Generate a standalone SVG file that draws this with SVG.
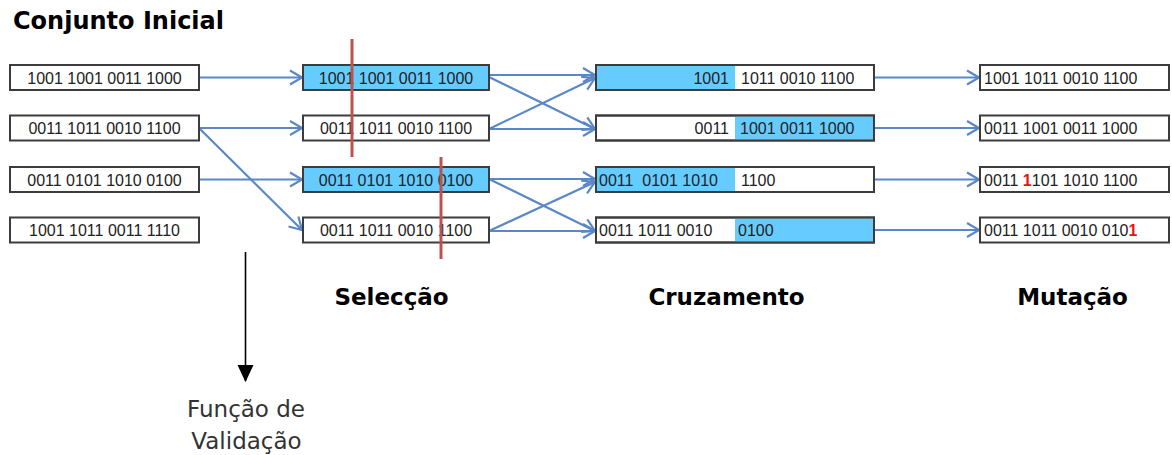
<svg xmlns="http://www.w3.org/2000/svg" width="1172" height="455" viewBox="0 0 1172 455">
<style>
.box{fill:#ffffff;stroke:#3c3c3c;stroke-width:2}
.blue{fill:#66ccff;stroke:none}
.frame{fill:none;stroke:#3c3c3c;stroke-width:2}
.bits{font-family:"Liberation Sans",Arial,sans-serif;font-size:16px;fill:#222222}
.mut{fill:#ee1111;font-weight:bold}
.title{font-family:"DejaVu Sans",Verdana,sans-serif;font-weight:bold;font-size:23px;fill:#000000}
.note{font-family:"DejaVu Sans",Verdana,sans-serif;font-size:23px;fill:#333333}
.conn{stroke:#5a87c5;stroke-width:2.2;fill:none;marker-end:url(#chev)}
.cut{stroke:#c0504d;stroke-width:3}
</style>
<defs>
<marker id="chev" markerUnits="userSpaceOnUse" markerWidth="18" markerHeight="18" refX="14" refY="9" orient="auto">
<path d="M2,2 L14,9 L2,16" fill="none" stroke="#5a87c5" stroke-width="2.2"/>
</marker>
<marker id="tri" markerUnits="userSpaceOnUse" markerWidth="18" markerHeight="18" refX="16" refY="9" orient="auto">
<path d="M0,1 L17,9 L0,17 Z" fill="#000000"/>
</marker>
</defs>

<text class="title" x="13" y="29" style="font-size:24px">Conjunto Inicial</text>
<text class="title" x="391.5" y="305" text-anchor="middle">Selecção</text>
<text class="title" x="726.5" y="305" text-anchor="middle">Cruzamento</text>
<text class="title" x="1072.5" y="305" text-anchor="middle">Mutação</text>

<g id="connectors">
<line class="conn" x1="199" y1="77.5" x2="302" y2="77.5"/>
<line class="conn" x1="199" y1="128" x2="302" y2="128"/>
<line class="conn" x1="199" y1="128" x2="302" y2="230"/>
<line class="conn" x1="199" y1="179.5" x2="302" y2="179.5"/>
<line class="conn" x1="489" y1="75" x2="595" y2="75"/>
<line class="conn" x1="489" y1="77" x2="595" y2="129"/>
<line class="conn" x1="489" y1="129" x2="595" y2="129"/>
<line class="conn" x1="489" y1="129" x2="595" y2="78"/>
<line class="conn" x1="489" y1="179" x2="595" y2="179"/>
<line class="conn" x1="489" y1="179" x2="595" y2="231"/>
<line class="conn" x1="489" y1="231" x2="595" y2="231"/>
<line class="conn" x1="489" y1="231" x2="595" y2="182"/>
<line class="conn" x1="874" y1="77.5" x2="979" y2="77.5"/>
<line class="conn" x1="874" y1="128" x2="979" y2="128"/>
<line class="conn" x1="874" y1="179.5" x2="979" y2="179.5"/>
<line class="conn" x1="874" y1="230" x2="979" y2="230"/>
<line x1="245.5" y1="252" x2="245.5" y2="381" stroke="#000000" stroke-width="1.6" marker-end="url(#tri)"/>
</g>

<g id="initial-1"><rect class="box" x="10" y="65" width="189" height="25"/><text class="bits" x="104.5" y="83.5" text-anchor="middle">1001 1001 0011 1000</text></g>
<g id="initial-2"><rect class="box" x="10" y="115.5" width="189" height="25"/><text class="bits" x="104.5" y="134" text-anchor="middle">0011 1011 0010 1100</text></g>
<g id="initial-3"><rect class="box" x="10" y="167" width="189" height="25"/><text class="bits" x="104.5" y="185.5" text-anchor="middle">0011 0101 1010 0100</text></g>
<g id="initial-4"><rect class="box" x="10" y="217.5" width="189" height="25"/><text class="bits" x="104.5" y="236" text-anchor="middle">1001 1011 0011 1110</text></g>

<g id="selection-1"><rect class="box" x="303" y="65" width="186" height="25" style="fill:#66ccff"/><text class="bits" x="396" y="83.5" text-anchor="middle">1001 1001 0011 1000</text></g>
<g id="selection-2"><rect class="box" x="303" y="115.5" width="186" height="25"/><text class="bits" x="396" y="134" text-anchor="middle">0011 1011 0010 1100</text></g>
<g id="selection-3"><rect class="box" x="303" y="167" width="186" height="25" style="fill:#66ccff"/><text class="bits" x="396" y="185.5" text-anchor="middle">0011 0101 1010 0100</text></g>
<g id="selection-4"><rect class="box" x="303" y="217.5" width="186" height="25"/><text class="bits" x="396" y="236" text-anchor="middle">0011 1011 0010 1100</text></g>

<g id="cut-lines">
<line class="cut" x1="352" y1="39" x2="352" y2="157"/>
<line class="cut" x1="441" y1="157" x2="441" y2="259"/>
</g>

<g id="crossover-1"><rect class="box" x="596" y="65" width="278" height="25"/><rect class="blue" x="597" y="66" width="138" height="23"/><rect class="frame" x="596" y="65" width="278" height="25"/><text class="bits" x="729" y="83.5" text-anchor="end">1001</text><text class="bits" x="741" y="83.5">1011 0010 1100</text></g>
<g id="crossover-2"><rect class="box" x="596" y="115.5" width="278" height="25"/><rect class="blue" x="735" y="116.5" width="138" height="23"/><rect class="frame" x="596" y="115.5" width="278" height="25"/><text class="bits" x="729" y="134" text-anchor="end">0011</text><text class="bits" x="740" y="134">1001 0011 1000</text></g>
<g id="crossover-3"><rect class="box" x="596" y="167" width="278" height="25"/><rect class="blue" x="597" y="168" width="138" height="23"/><rect class="frame" x="596" y="167" width="278" height="25"/><text class="bits" x="599" y="185.5" xml:space="preserve">0011  0101 1010</text><text class="bits" x="741" y="185.5">1100</text></g>
<g id="crossover-4"><rect class="box" x="596" y="217.5" width="278" height="25"/><rect class="blue" x="735" y="218.5" width="138" height="23"/><rect class="frame" x="596" y="217.5" width="278" height="25"/><text class="bits" x="599" y="236">0011 1011 0010</text><text class="bits" x="738" y="236">0100</text></g>

<g id="mutation-1"><rect class="box" x="980" y="65" width="189" height="25"/><text class="bits" x="984" y="83.5">1001 1011 0010 1100</text></g>
<g id="mutation-2"><rect class="box" x="980" y="115.5" width="189" height="25"/><text class="bits" x="984" y="134">0011 1001 0011 1000</text></g>
<g id="mutation-3"><rect class="box" x="980" y="167" width="189" height="25"/><text class="bits" x="984" y="185.5">0011 <tspan class="mut">1</tspan>101 1010 1100</text></g>
<g id="mutation-4"><rect class="box" x="980" y="217.5" width="189" height="25"/><text class="bits" x="984" y="236">0011 1011 0010 010<tspan class="mut">1</tspan></text></g>

<g id="validation">
<text class="note" x="246" y="417" text-anchor="middle">Função de</text>
<text class="note" x="246.5" y="449" text-anchor="middle">Validação</text>
</g>
</svg>
